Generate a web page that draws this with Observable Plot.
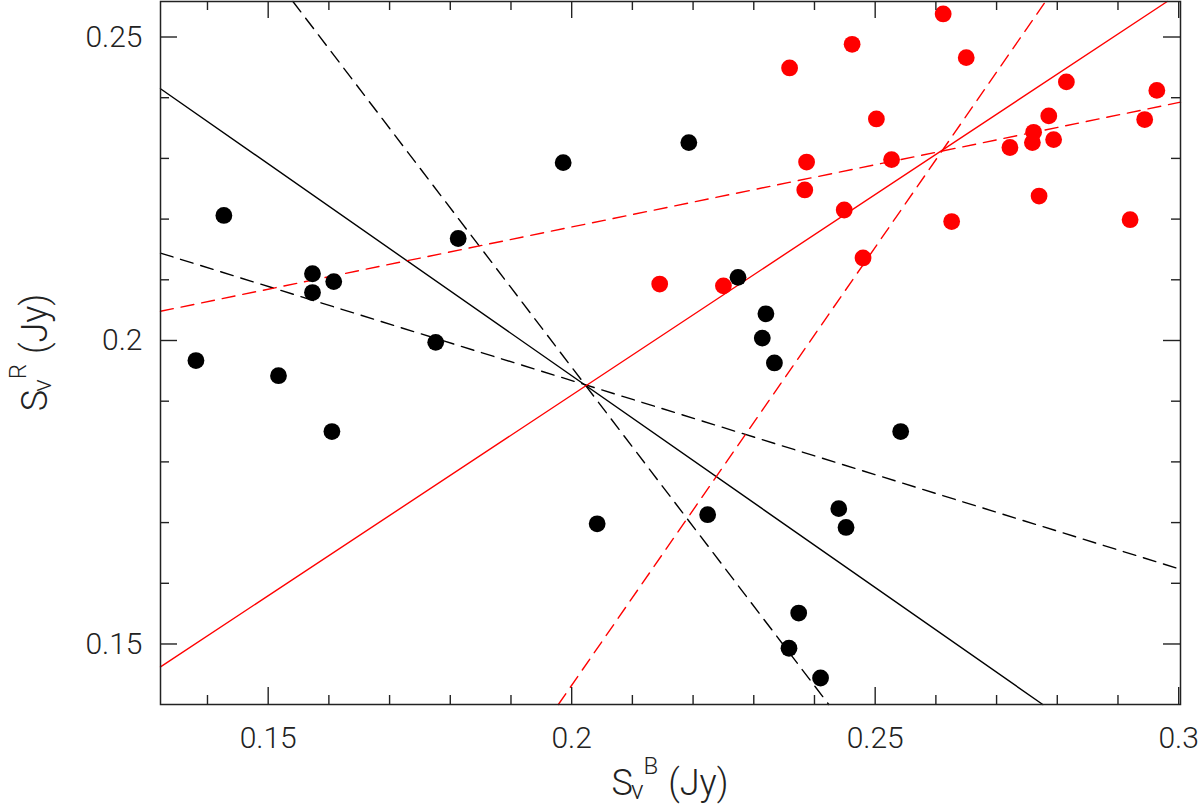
<!DOCTYPE html>
<html>
<head>
<meta charset="utf-8">
<script src="https://cdn.jsdelivr.net/npm/d3@7"></script>
<script src="https://cdn.jsdelivr.net/npm/@observablehq/plot@0.6"></script>
<style>
  html, body { margin: 0; padding: 0; background: #fff; }
  #chart { width: 1200px; height: 808px; }
</style>
</head>
<body>
<div id="chart"></div>
<script>
// ---- data ----
const blackX = [0.1381, 0.1427, 0.1517, 0.1573, 0.1573, 0.1608, 0.1605, 0.1776, 0.1813, 0.1986, 0.2042, 0.2193,
                0.2224, 0.2274, 0.2314, 0.2320, 0.2334, 0.2358, 0.2374, 0.2410, 0.2440, 0.2452, 0.2542];
const blackY = [0.1967, 0.2206, 0.1942, 0.2110, 0.2079, 0.2097, 0.1850, 0.1997, 0.2168, 0.2293, 0.1698, 0.2326,
                0.1713, 0.2104, 0.2004, 0.2044, 0.1963, 0.1493, 0.1551, 0.1444, 0.1723, 0.1692, 0.1850];
const redX = [0.2145, 0.2250, 0.2359, 0.2384, 0.2387, 0.2449, 0.2462, 0.2480, 0.2502, 0.2527, 0.2612, 0.2626,
              0.2650, 0.2722, 0.2759, 0.2761, 0.2770, 0.2786, 0.2794, 0.2815, 0.2920, 0.2944, 0.2964];
const redY = [0.2093, 0.2090, 0.2449, 0.2248, 0.2294, 0.2215, 0.2488, 0.2136, 0.2365, 0.2298, 0.2538, 0.2196,
              0.2466, 0.2318, 0.2326, 0.2343, 0.2238, 0.2370, 0.2331, 0.2426, 0.2199, 0.2364, 0.2412];

// fitted lines  y = slope * x + intercept
const lineNames      = ["black solid", "black steep dashed", "black shallow dashed", "red solid", "red steep dashed", "red shallow dashed"];
const lineSlopes     = [-0.698, -1.312, -0.310, 0.661, 1.443, 0.205];
const lineIntercepts = [0.3338, 0.4580, 0.2554, 0.0588, -0.1454, 0.1777];

const xMajorTicks = [0.15, 0.2, 0.25, 0.3];
const xMinorTicks = [0.14, 0.16, 0.17, 0.18, 0.19, 0.21, 0.22, 0.23, 0.24, 0.26, 0.27, 0.28, 0.29];
const yMajorTicks = [0.15, 0.2, 0.25];
const yMinorTicks = [0.16, 0.17, 0.18, 0.19, 0.21, 0.22, 0.23, 0.24];

const xDomain = [0.13226, 0.3003];
const yDomain = [0.14003, 0.25585];

// ---- layout ----
const W = 1200, H = 808;
const mL = 160, mR = 20, mT = 1, mB = 104;
const frameW = W - mL - mR, frameH = H - mT - mB;
const majorLen = 17, minorLen = 9;
const ink = "#222";

const blackPts = blackX.map((x, i) => ({x, y: blackY[i]}));
const redPts = redX.map((x, i) => ({x, y: redY[i]}));

// clip a line y = m x + b to the plotting domain
function segment(m, b) {
  const [x0, x1] = xDomain, [y0, y1] = yDomain;
  const c = [];
  for (const x of [x0, x1]) { const y = m * x + b; if (y >= y0 - 1e-9 && y <= y1 + 1e-9) c.push({x, y}); }
  for (const y of [y0, y1]) { const x = (y - b) / m; if (x >= x0 - 1e-9 && x <= x1 + 1e-9) c.push({x, y}); }
  c.sort((a, b) => a.x - b.x);
  return [c[0], c[c.length - 1]];
}
const seg = lineNames.map((n, i) => segment(lineSlopes[i], lineIntercepts[i]));

const dash = "13,8";

const svg = Plot.plot({
  width: W, height: H,
  marginLeft: mL, marginRight: mR, marginTop: mT, marginBottom: mB,
  x: {domain: xDomain, axis: null},
  y: {domain: yDomain, axis: null},
  style: {fontFamily: "Roboto, 'DejaVu Sans', sans-serif", fontWeight: 300, color: ink, background: "#fff"},
  marks: [
    // fitted lines
    Plot.line(seg[0], {x: "x", y: "y", stroke: "#000", strokeWidth: 1.4}),
    Plot.line(seg[1], {x: "x", y: "y", stroke: "#000", strokeWidth: 1.4, strokeDasharray: dash}),
    Plot.line(seg[2], {x: "x", y: "y", stroke: "#000", strokeWidth: 1.4, strokeDasharray: dash}),
    Plot.line(seg[3], {x: "x", y: "y", stroke: "#ff0000", strokeWidth: 1.4}),
    Plot.line(seg[4], {x: "x", y: "y", stroke: "#ff0000", strokeWidth: 1.4, strokeDasharray: dash}),
    Plot.line(seg[5], {x: "x", y: "y", stroke: "#ff0000", strokeWidth: 1.4, strokeDasharray: dash}),
    // points
    Plot.dot(blackPts, {x: "x", y: "y", r: 8.4, fill: "#000"}),
    Plot.dot(redPts, {x: "x", y: "y", r: 8.4, fill: "#ff0000"}),
    // inward ticks: bottom, top, left, right
    Plot.ruleX(xMajorTicks, {x: d => d, stroke: ink, strokeWidth: 1.4, insetTop: frameH - majorLen}),
    Plot.ruleX(xMinorTicks, {x: d => d, stroke: ink, strokeWidth: 1.4, insetTop: frameH - minorLen}),
    Plot.ruleX(xMajorTicks, {x: d => d, stroke: ink, strokeWidth: 1.4, insetBottom: frameH - majorLen}),
    Plot.ruleX(xMinorTicks, {x: d => d, stroke: ink, strokeWidth: 1.4, insetBottom: frameH - minorLen}),
    Plot.ruleY(yMajorTicks, {y: d => d, stroke: ink, strokeWidth: 1.4, insetRight: frameW - majorLen}),
    Plot.ruleY(yMinorTicks, {y: d => d, stroke: ink, strokeWidth: 1.4, insetRight: frameW - minorLen}),
    Plot.ruleY(yMajorTicks, {y: d => d, stroke: ink, strokeWidth: 1.4, insetLeft: frameW - majorLen}),
    Plot.ruleY(yMinorTicks, {y: d => d, stroke: ink, strokeWidth: 1.4, insetLeft: frameW - minorLen}),
    // tick labels
    Plot.axisX(xMajorTicks, {anchor: "bottom", tickSize: 0, tickPadding: 22, fontSize: 30, label: null, tickFormat: d3.format("~g"), fill: ink}),
    Plot.axisY(yMajorTicks, {anchor: "left", tickSize: 0, tickPadding: 18, fontSize: 30, label: null, tickFormat: d3.format("~g"), fill: ink}),
    // frame
    Plot.frame({stroke: ink, strokeWidth: 1.5})
  ]
});

// axis titles with sub/superscripts
const s = d3.select(svg);
function addLabel(g, sup) {
  g.attr("fill", ink).attr("font-size", 36).attr("text-anchor", "middle");
  g.append("tspan").text("S");
  g.append("tspan").attr("font-size", 26).attr("dy", 4).attr("dx", -2).text("ν");
  g.append("tspan").attr("font-size", 24).attr("dx", 0).attr("dy", -25).text(sup);
  g.append("tspan").attr("dy", 21).attr("dx", 10).text("(Jy)");
}
const cx = mL + frameW / 2, cy = mT + frameH / 2;
addLabel(s.append("text").attr("x", cx).attr("y", 795), "B");
addLabel(s.append("text").attr("transform", `translate(47,${cy}) rotate(-90)`), "R");

document.getElementById("chart").appendChild(svg);
</script>
</body>
</html>
